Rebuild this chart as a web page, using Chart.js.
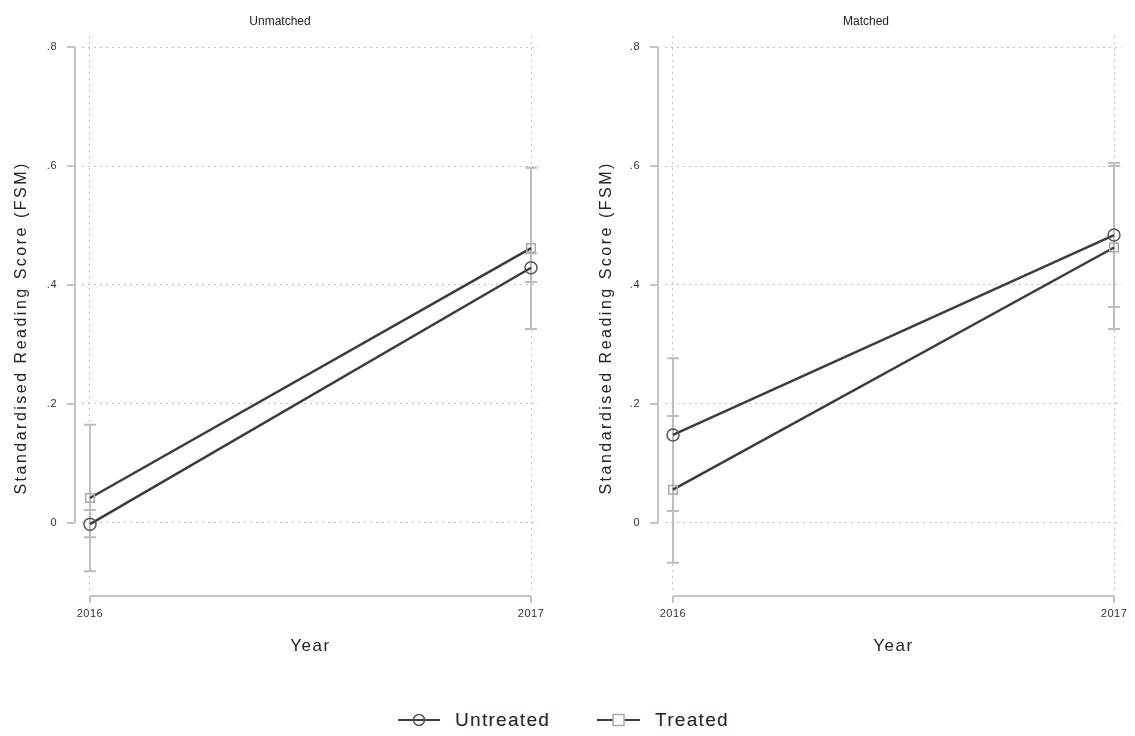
<!DOCTYPE html>
<html lang="en">
<head>
  <meta charset="UTF-8">
  <title>Reading score by year</title>
  <script src="https://cdn.jsdelivr.net/npm/chart.js"></script>
  <style>
    body { margin: 0; background: #fff; font-family: "Liberation Sans", Arial, sans-serif; }
    #page { position: relative; width: 1135px; height: 736px; overflow: hidden; }
    .panel { position: absolute; top: 0; height: 680px; }
    .item { position: absolute; top: 708px; height: 24px; display: flex; align-items: center;
            color: #222; font-size: 19px; letter-spacing: 1.3px; }
    .item svg { margin-right: 15px; }
  </style>
</head>
<body>
<div id="page">
  <div class="panel" style="left:0;width:568px"><canvas id="unmatched"></canvas></div>
  <div class="panel" style="left:583px;width:563px"><canvas id="matched"></canvas></div>
  <div class="item" style="left:398px">
    <svg width="42" height="16"><line x1="0" y1="8" x2="42" y2="8" stroke="#3c3c3c" stroke-width="2"/><circle cx="21" cy="8" r="5.5" fill="none" stroke="#555" stroke-width="1.5"/></svg>
    <span>Untreated</span>
  </div>
  <div class="item" style="left:597px">
    <svg width="43" height="16"><line x1="0" y1="8" x2="43" y2="8" stroke="#3c3c3c" stroke-width="2"/><rect x="16" y="2.5" width="11" height="11" fill="#fff" stroke="#aaa" stroke-width="1.5"/></svg>
    <span>Treated</span>
  </div>
</div>

<script>
  const years = [2016, 2017];
  const yTicks = [0, 0.2, 0.4, 0.6, 0.8];

  // Unmatched panel
  const unmUntreated = [-0.002, 0.429];
  const unmUntreatedLo = [-0.024, 0.405];
  const unmUntreatedHi = [0.022, 0.453];
  const unmTreated = [0.042, 0.462];
  const unmTreatedLo = [-0.081, 0.326];
  const unmTreatedHi = [0.165, 0.597];

  // Matched panel
  const matUntreated = [0.148, 0.484];
  const matUntreatedLo = [0.020, 0.363];
  const matUntreatedHi = [0.277, 0.605];
  const matTreated = [0.056, 0.463];
  const matTreatedLo = [-0.067, 0.326];
  const matTreatedHi = [0.180, 0.600];

  const FONT = '"Liberation Sans", Arial, sans-serif';
  const AXIS_GREY = '#c4c4c4';

  function fmt(v) {
    if (Math.abs(v) < 1e-9) return '0';
    return String(Math.round(v * 10) / 10).replace(/^0\./, '.');
  }

  const toPts = vals => vals.map((v, i) => ({ x: years[i], y: v }));

  // error bars (behind the lines)
  const ciPlugin = {
    id: 'ci',
    beforeDatasetsDraw(chart) {
      const { ctx, scales: { x, y } } = chart;
      ctx.save();
      ctx.strokeStyle = '#bdbdbd';
      ctx.lineWidth = 2;
      chart.data.datasets.forEach(ds => {
        years.forEach((yr, i) => {
          const px = x.getPixelForValue(yr);
          const y1 = y.getPixelForValue(ds.lo[i]);
          const y2 = y.getPixelForValue(ds.hi[i]);
          ctx.beginPath();
          ctx.moveTo(px, y1); ctx.lineTo(px, y2);
          ctx.moveTo(px - 6, y1); ctx.lineTo(px + 6, y1);
          ctx.moveTo(px - 6, y2); ctx.lineTo(px + 6, y2);
          ctx.stroke();
        });
      });
      ctx.restore();
    }
  };

  // Stata-style axis lines: y from 0 to .8, x from 2016 to 2017
  const axesPlugin = {
    id: 'stataAxes',
    afterDraw(chart) {
      const { ctx, chartArea, scales: { x, y } } = chart;
      ctx.save();
      ctx.strokeStyle = AXIS_GREY;
      ctx.lineWidth = 2;
      const ax = chartArea.left - 7;
      ctx.beginPath();
      ctx.moveTo(ax, y.getPixelForValue(yTicks[0]));
      ctx.lineTo(ax, y.getPixelForValue(yTicks[yTicks.length - 1]));
      yTicks.forEach(v => {
        const py = y.getPixelForValue(v);
        ctx.moveTo(ax - 8, py); ctx.lineTo(ax, py);
      });
      const ay = chartArea.bottom + 4;
      ctx.moveTo(x.getPixelForValue(years[0]), ay);
      ctx.lineTo(x.getPixelForValue(years[years.length - 1]), ay);
      years.forEach(yr => {
        const px = x.getPixelForValue(yr);
        ctx.moveTo(px, ay); ctx.lineTo(px, ay + 7);
      });
      ctx.stroke();
      ctx.restore();
    }
  };

  // wider letter spacing on the axis texts, like the Stata export
  const spacing = { x: { drawTitle: '1.5px', drawLabels: '0.5px' }, y: { drawTitle: '2.5px', drawLabels: '0.5px' } };
  const spacingPlugin = {
    id: 'spacing',
    afterUpdate(chart) {
      for (const id in spacing) {
        const s = chart.scales[id];
        if (!s || s._spaced) continue;
        s._spaced = true;
        for (const fn in spacing[id]) {
          const orig = s[fn];
          s[fn] = function (...args) {
            const ctx = this.ctx;
            ctx.letterSpacing = spacing[id][fn];
            orig.apply(this, args);
            ctx.letterSpacing = '0px';
          };
        }
      }
    }
  };

  function makeChart(id, title, untreated, uLo, uHi, treated, tLo, tHi, pad, yWidth, yTitlePad) {
    return new Chart(document.getElementById(id), {
      type: 'line',
      data: {
        datasets: [
          {
            label: 'Untreated', data: toPts(untreated), lo: uLo, hi: uHi,
            borderColor: '#3c3c3c', borderWidth: 2.5,
            pointStyle: 'circle', pointRadius: 6, pointBorderWidth: 1.5,
            pointBorderColor: '#555', pointBackgroundColor: 'rgba(0,0,0,0)'
          },
          {
            label: 'Treated', data: toPts(treated), lo: tLo, hi: tHi,
            borderColor: '#3c3c3c', borderWidth: 2.5,
            pointStyle: 'rect', pointRadius: 6, pointBorderWidth: 1.5,
            pointBorderColor: '#aaa', pointBackgroundColor: 'rgba(0,0,0,0)'
          }
        ]
      },
      options: {
        responsive: true,
        maintainAspectRatio: false,
        animation: false,
        layout: { padding: pad },
        plugins: {
          legend: { display: false },
          tooltip: { enabled: false },
          title: {
            display: true, text: title, color: '#222',
            font: { family: FONT, size: 12, weight: 'normal' },
            padding: { top: 14, bottom: 7.6 }
          }
        },
        scales: {
          x: {
            type: 'linear', min: 2015.9819, max: 2017.0181,
            afterBuildTicks: s => { s.ticks = years.map(v => ({ value: v })); },
            afterFit: s => { s.height = 88; },
            ticks: { color: '#333', padding: 15, font: { family: FONT, size: 11 }, callback: v => String(v) },
            grid: { color: AXIS_GREY, lineWidth: 1, drawTicks: false },
            border: { display: false, dash: [2, 4] },
            title: { display: true, text: 'Year', color: '#222', font: { family: FONT, size: 17 }, padding: { top: 0, bottom: 23.8 } }
          },
          y: {
            min: -0.116, max: 0.8185,
            afterBuildTicks: s => { s.ticks = yTicks.map(v => ({ value: v })); },
            afterFit: s => { s.width = yWidth; },
            ticks: { color: '#333', padding: 25, font: { family: FONT, size: 11 }, callback: v => fmt(v) },
            grid: { color: AXIS_GREY, lineWidth: 1, drawTicks: false },
            border: { display: false, dash: [2, 4] },
            // trailing spaces nudge the centred title a little lower, as in the original
            title: { display: true, text: 'Standardised Reading Score (FSM)    ', color: '#222', font: { family: FONT, size: 16 }, padding: { top: yTitlePad, bottom: 0 } }
          }
        }
      },
      plugins: [ciPlugin, axesPlugin, spacingPlugin]
    });
  }

  makeChart('unmatched', 'Unmatched', unmUntreated, unmUntreatedLo, unmUntreatedHi, unmTreated, unmTreatedLo, unmTreatedHi,
            { left: 21, right: 29, top: 0, bottom: 0 }, 61, -8.6);
  makeChart('matched', 'Matched', matUntreated, matUntreatedLo, matUntreatedHi, matTreated, matTreatedLo, matTreatedHi,
            { left: 27, right: 24, top: 0, bottom: 0 }, 55, -12.6);
</script>
</body>
</html>
